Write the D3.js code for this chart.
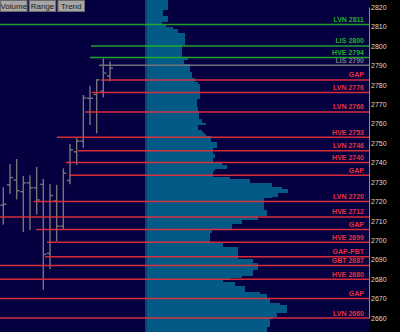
<!DOCTYPE html>
<html>
<head>
<meta charset="utf-8">
<script src="https://cdn.jsdelivr.net/npm/d3@7"></script>
<style>
  body { margin: 0; background: #050040; }
  svg { display: block; }
</style>
</head>
<body>
<div id="chart"></div>
<script>
// price ticks on the right axis
var tickPrices = [2660, 2670, 2680, 2690, 2700, 2710, 2720, 2730, 2740, 2750, 2760, 2770, 2780, 2790, 2800, 2810, 2820];

// volume profile, one value per price point from 2824 downward
var profileTop = 2824;
var profileVol = [
  21, 21, 21, 21, 21, 21, 16, 16, 16, 21,
  21, 21, 15, 15, 19, 26, 31, 31, 38, 38,
  38, 38, 38, 38, 35, 35, 35, 35, 35, 35,
  41, 41, 37, 37, 43, 43, 43, 43, 45, 45,
  45, 48, 48, 51, 53, 53, 53, 53, 53, 53,
  53, 53, 50, 50, 50, 50, 51, 51, 52, 52,
  52, 52, 55, 55, 59, 51, 51, 51, 55, 57,
  59, 64, 64, 64, 70, 70, 70, 66, 66, 66,
  68, 68, 66, 66, 75, 75, 80, 80, 68, 66,
  66, 66, 83, 103, 103, 125, 125, 135, 141, 141,
  131, 131, 125, 117, 117, 117, 117, 117, 117, 120,
  120, 120, 111, 111, 95, 95, 85, 85, 85, 65,
  65, 63, 63, 63, 63, 63, 76, 76, 91, 91,
  91, 91, 91, 91, 106, 106, 111, 111, 111, 111,
  106, 106, 106, 95, 83, 76, 88, 88, 98, 98,
  98, 113, 120, 120, 123, 123, 123, 133, 140, 140,
  140, 140, 130, 130, 126, 123, 123, 123, 123, 120,
  120, 120
];

// price bars (OHLC)
var barOpen  = [2718, 2728.5, 2731, 2725, 2729.5, 2727, 2728.75, 2693.25, 2720.25, 2707.25, 2730.75, 2745.5, 2751, 2773, 2775, 2776.75, 2784.5];
var barHigh  = [2727.25, 2739.25, 2741.75, 2733, 2733.5, 2737.75, 2731.5, 2729, 2728.5, 2737, 2749.5, 2752.5, 2774.75, 2779.5, 2783, 2793.5, 2792];
var barLow   = [2708, 2723.75, 2721, 2704.25, 2705.25, 2713.25, 2674.5, 2685.25, 2699.5, 2705.5, 2728.75, 2738.75, 2747.5, 2759.25, 2755, 2773.5, 2781.75];
var barClose = [2718.5, 2732.25, 2725.5, 2729.5, 2727, 2720.75, 2692.75, 2723, 2707.25, 2734.5, 2746.5, 2751, 2773.25, 2773, 2782.5, 2786, 2788.5];

// key levels: price, label, bar where the level starts
var lisPrice = 2790;
var levelPrices = [2811, 2800, 2794, 2790, 2782.5, 2776, 2766, 2753, 2746, 2740, 2733.5, 2720, 2712, 2705.5, 2699, 2691.5, 2687, 2680, 2670, 2660];
var levelLabels = ["LVN 2811", "LIS 2800", "HVE 2794", "LIS 2790", "GAP", "LVN 2776", "LVN 2766", "HVE 2753", "LVN 2746", "HVE 2740", "GAP", "LVN 2720", "HVE 2712", "GAP", "HVE 2699", "GAP-PBT", "GBT 2687", "HVE 2680", "GAP", "LVN 2660"];
var levelFrom = [-0.5, 13.15, 13, 14.35, 14.65, 13.3, 12.25, 8.05, 11.2, 9.4, 9.85, 4.6, -0.5, 4.9, 6.55, 6.25, -0.5, -0.5, -0.5, -0.5];

var buttonLabels = ["Volume", "Range", "Trend"];

var width = 400, height = 332, axisLeft = 369;

var svg = d3.select("#chart").append("svg")
    .attr("width", width)
    .attr("height", height);

svg.append("rect")
    .attr("width", width)
    .attr("height", height)
    .attr("fill", "#050040");

var y = d3.scaleLinear().domain([2660, 2820]).range([318, 7]);
var xv = d3.scaleLinear().domain([0, 150]).range([147, 297]);
var xb = d3.scaleLinear().domain([0, 16]).range([3.33, 110]);

// volume profile
var profile = profileVol.map((v, i) => ({ price: profileTop - i, vol: v }));

svg.append("g")
    .attr("shape-rendering", "crispEdges")
    .selectAll("rect")
    .data(profile)
    .join("rect")
    .attr("x", xv(0))
    .attr("y", d => y(d.price + 0.5))
    .attr("width", d => xv(d.vol) - xv(0))
    .attr("height", d => y(d.price - 0.5) - y(d.price + 0.5))
    .attr("fill", "#035a87");

svg.append("rect")
    .attr("x", xv(0) - 2)
    .attr("y", 0)
    .attr("width", 2)
    .attr("height", height)
    .attr("fill", "#08436d");

// price bars
var bars = barOpen.map((o, i) => ({ i: i, o: o, h: barHigh[i], l: barLow[i], c: barClose[i] }));
var gBars = svg.append("g")
    .attr("stroke", "#76767a")
    .attr("stroke-width", 1.4);

gBars.selectAll(".hl")
    .data(bars)
    .join("line")
    .attr("x1", d => xb(d.i)).attr("x2", d => xb(d.i))
    .attr("y1", d => y(d.h)).attr("y2", d => y(d.l));

gBars.selectAll(".op")
    .data(bars)
    .join("line")
    .attr("x1", d => xb(d.i) - 3).attr("x2", d => xb(d.i))
    .attr("y1", d => y(d.o)).attr("y2", d => y(d.o));

gBars.selectAll(".cl")
    .data(bars)
    .join("line")
    .attr("x1", d => xb(d.i)).attr("x2", d => xb(d.i) + 3)
    .attr("y1", d => y(d.c)).attr("y2", d => y(d.c));

// key levels
function levelColor(p) {
    if (p > lisPrice) return "#1fb02a";
    if (p === lisPrice) return "#7a7a7a";
    return "#e8303a";
}

var levels = levelPrices.map((p, i) => ({ price: p, label: levelLabels[i], from: levelFrom[i] }));

svg.append("g")
    .selectAll("line")
    .data(levels)
    .join("line")
    .attr("x1", d => Math.max(0, xb(d.from)))
    .attr("x2", axisLeft)
    .attr("y1", d => y(d.price))
    .attr("y2", d => y(d.price))
    .attr("stroke", d => levelColor(d.price))
    .attr("stroke-opacity", 0.92)
    .attr("stroke-width", 1.5);

svg.append("g")
    .selectAll("text")
    .data(levels)
    .join("text")
    .attr("x", 364)
    .attr("y", d => y(d.price) - 2.5)
    .attr("text-anchor", "end")
    .style("font-family", "'Liberation Sans', Arial, sans-serif")
    .style("font-size", "7px")
    .style("font-weight", "bold")
    .attr("fill", d => levelColor(d.price))
    .text(d => d.label);

// right price axis
svg.append("rect")
    .attr("x", axisLeft)
    .attr("y", 0)
    .attr("width", width - axisLeft)
    .attr("height", height)
    .attr("fill", "#000000");

var axis = svg.append("g")
    .attr("transform", "translate(" + axisLeft + ",0)")
    .call(d3.axisRight(y).tickValues(tickPrices).tickSize(0).tickPadding(2).tickFormat(d3.format("d")));
axis.select(".domain").attr("stroke", "#8a8a8a").attr("stroke-width", 1);
axis.selectAll("text")
    .attr("fill", "#dcdcdc")
    .style("font-family", "'Liberation Sans', Arial, sans-serif")
    .style("font-size", "7px");

// top buttons
var xBtn = d3.scaleBand().domain(buttonLabels).range([0, 85]).paddingInner(0.04);
var btn = svg.append("g").selectAll("g")
    .data(buttonLabels)
    .join("g")
    .attr("transform", d => "translate(" + xBtn(d) + ",0)");
btn.append("rect")
    .attr("x", 0.5).attr("y", 0.5)
    .attr("width", xBtn.bandwidth() - 1)
    .attr("height", 11)
    .attr("fill", "#a6a6a6")
    .attr("stroke", "#6a6a6a");
btn.append("text")
    .attr("x", xBtn.bandwidth() / 2)
    .attr("y", 9)
    .attr("text-anchor", "middle")
    .style("font-family", "'Liberation Sans', Arial, sans-serif")
    .style("font-size", "8px")
    .attr("fill", "#222222")
    .text(d => d);
</script>
</body>
</html>
